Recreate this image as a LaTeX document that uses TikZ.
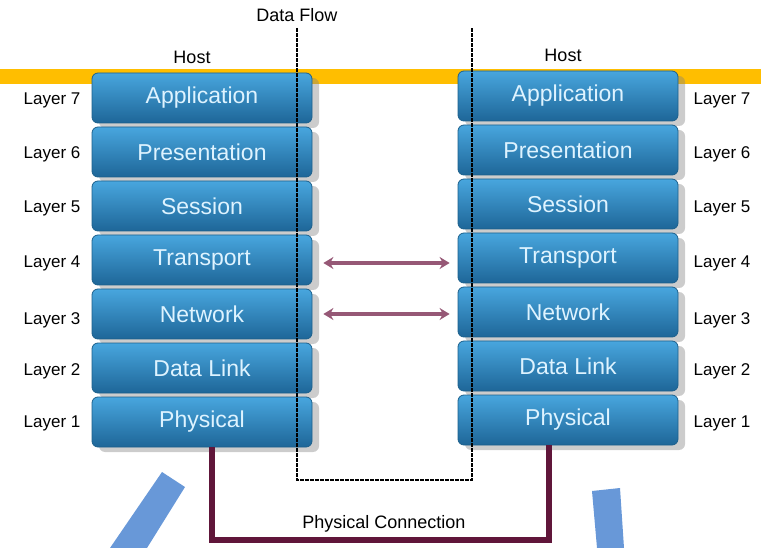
\documentclass[tikz,border=0pt]{standalone}
\usepackage{fontspec}
\setmainfont{Liberation Sans}
\usetikzlibrary{arrows.meta,shadows}
\definecolor{osiblue}{RGB}{50,150,208}
\definecolor{ositop}{RGB}{72,166,222}
\definecolor{osibot}{RGB}{30,102,152}
\definecolor{osiedge}{RGB}{28,96,140}
\definecolor{ositext}{RGB}{222,243,255}
\definecolor{barcol}{RGB}{255,190,0}
\definecolor{cablecol}{RGB}{96,22,58}
\definecolor{arrowcol}{RGB}{150,88,118}
\definecolor{strokecol}{RGB}{104,152,216}
\begin{document}
\begin{tikzpicture}[x=1pt,y=-1pt,
  layer node/.style={rectangle,rounded corners=6pt,minimum width=220pt,minimum height=50pt,
    top color=ositop,middle color=osiblue,bottom color=osibot,draw=osiedge,line width=.8pt,
    text=ositext,font=\fontsize{23}{23}\selectfont,
    drop shadow={shadow xshift=7pt,shadow yshift=-5pt,opacity=.4}},
  num node/.style={font=\fontsize{17}{17}\selectfont},
  head node/.style={font=\fontsize{18}{18}\selectfont},
  flow line/.style={dash pattern=on 4pt off 1pt,line width=1.5pt,black},
  peer/.style={{Stealth[length=10pt,width=12pt]}-{Stealth[length=10pt,width=12pt]},line width=3.4pt,arrowcol,shorten <=11pt,shorten >=8pt},
  cable/.style={line width=6.5pt,cablecol}]
\useasboundingbox (0,0) rectangle (761,548);
% yellow bar behind the stacks
\fill[barcol] (0,69) rectangle (761,84);
% blue strokes
\fill[strokecol] (162,472) -- (185,487) -- (147,548) -- (110,548) -- cycle;
\fill[strokecol] (592,491) -- (620,488) -- (624,548) -- (597,548) -- cycle;
\begin{scope}
\node[layer node] (l7) at (202,98) {Application};
\node[layer node] (l6) at (202,152) {Presentation};
\node[layer node] (l5) at (202,206) {Session};
\node[layer node] (l4) at (202,260) {Transport};
\node[layer node] (l3) at (202,314) {Network};
\node[layer node] (l2) at (202,368) {Data Link};
\node[layer node] (l1) at (202,422) {Physical};
\node[layer node] (r7) at (568,96) {Application};
\node[layer node] (r6) at (568,150) {Presentation};
\node[layer node] (r5) at (568,204) {Session};
\node[layer node] (r4) at (568,258) {Transport};
\node[layer node] (r3) at (568,312) {Network};
\node[layer node] (r2) at (568,366) {Data Link};
\node[layer node] (r1) at (568,420) {Physical};
\end{scope}
\begin{scope}[every node/.style={num node}]
\node (ln7) at (52,100) {Layer 7};
\node (ln6) at (52,154) {Layer 6};
\node (ln5) at (52,208) {Layer 5};
\node (ln4) at (52,263) {Layer 4};
\node (ln3) at (52,320) {Layer 3};
\node (ln2) at (52,371) {Layer 2};
\node (ln1) at (52,423) {Layer 1};
\node (rn7) at (722,100) {Layer 7};
\node (rn6) at (722,154) {Layer 6};
\node (rn5) at (722,208) {Layer 5};
\node (rn4) at (722,263) {Layer 4};
\node (rn3) at (722,320) {Layer 3};
\node (rn2) at (722,371) {Layer 2};
\node (rn1) at (722,423) {Layer 1};
\end{scope}
\begin{scope}[every node/.style={head node}]
\node (lhost) at (192,57) {Host};
\node (rhost) at (563,55) {Host};
\node (flow) at (297,15) {Data Flow};
\node (conn) at (384,524) {Physical Connection};
\end{scope}
% data flow path
\coordinate (f1) at (297,28);
\coordinate (f2) at (297,480);
\coordinate (f3) at (472,480);
\coordinate (f4) at (472,28);
\draw[flow line] (f1) -- (f2) -- (f3) -- (f4);
% peer arrows
\draw[peer] (l4.east |- 0,263) -- (r4.west |- 0,263);
\draw[peer] (l3.east |- 0,314) -- (r3.west |- 0,314);
% physical connection
\coordinate (c1) at (212,540);
\coordinate (c2) at (549,540);
\draw[cable,line join=miter] ([xshift=10pt]l1.south) -- (c1) -- (c2) -- ([xshift=-19pt]r1.south);
\end{tikzpicture}
\end{document}
